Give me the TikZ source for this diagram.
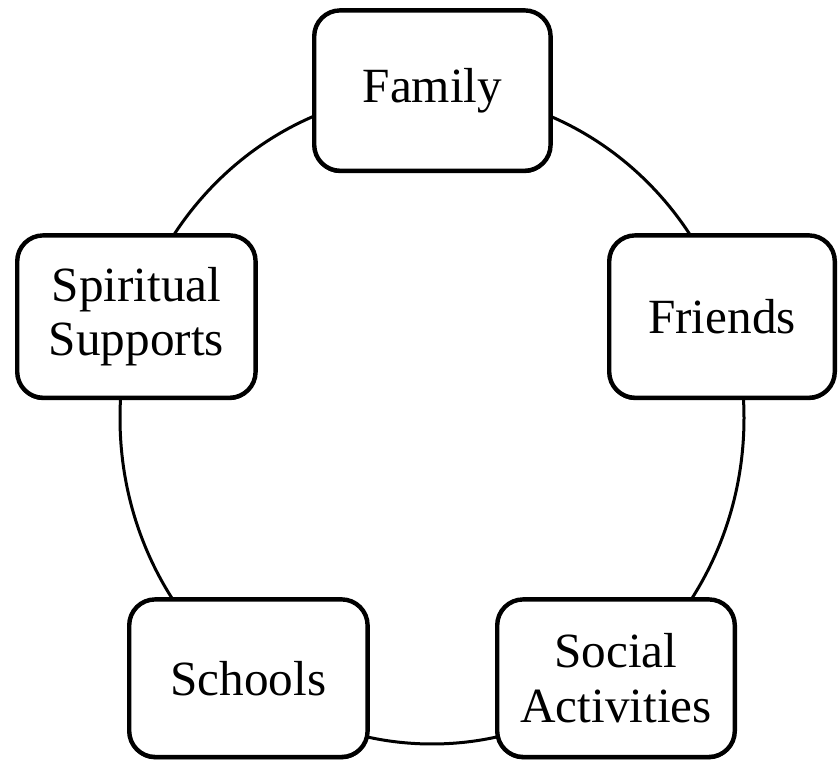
\documentclass[tikz,border=0pt]{standalone}
\usepackage{fontspec}
\setmainfont{Liberation Serif}
\usetikzlibrary{shadows}
\tikzset{
  itembox/.style={draw, line width=0.11cm, rounded corners=0.65cm, fill=white, align=center,
    font=\fontsize{35}{38.5}\selectfont,
    drop shadow={shadow xshift=0cm, shadow yshift=-0.06cm, opacity=1, fill=black}}
}
\begin{document}
\begin{tikzpicture}
    \useasboundingbox (0,0) rectangle (20.95,19.025); % 画布
    \def\a{7.8} % 横半轴
    \def\b{8.15} % 纵半轴
    \coordinate (o) at (10.8,8.575); % 中心
    \draw[line width=0.075cm] (o) ellipse ({\a} and {\b}); % 椭圆
    \node[itembox, minimum width=5.91cm, minimum height=4.01cm] (family) at (10.81,16.76) {Family}; % 上
    \node[itembox, minimum width=5.64cm, minimum height=4.06cm] (friends) at (18.05,11.11) {Friends}; % 右
    \node[itembox, minimum width=5.94cm, minimum height=3.94cm] (social) at (15.4,2.07) {Social\\Activities}; % 右下
    \node[itembox, minimum width=5.96cm, minimum height=3.94cm] (schools) at (6.21,2.07) {Schools}; % 左下
    \node[itembox, minimum width=5.96cm, minimum height=4.06cm] (spiritual) at (3.41,11.11) {Spiritual\\Supports}; % 左
\end{tikzpicture}
\end{document}
